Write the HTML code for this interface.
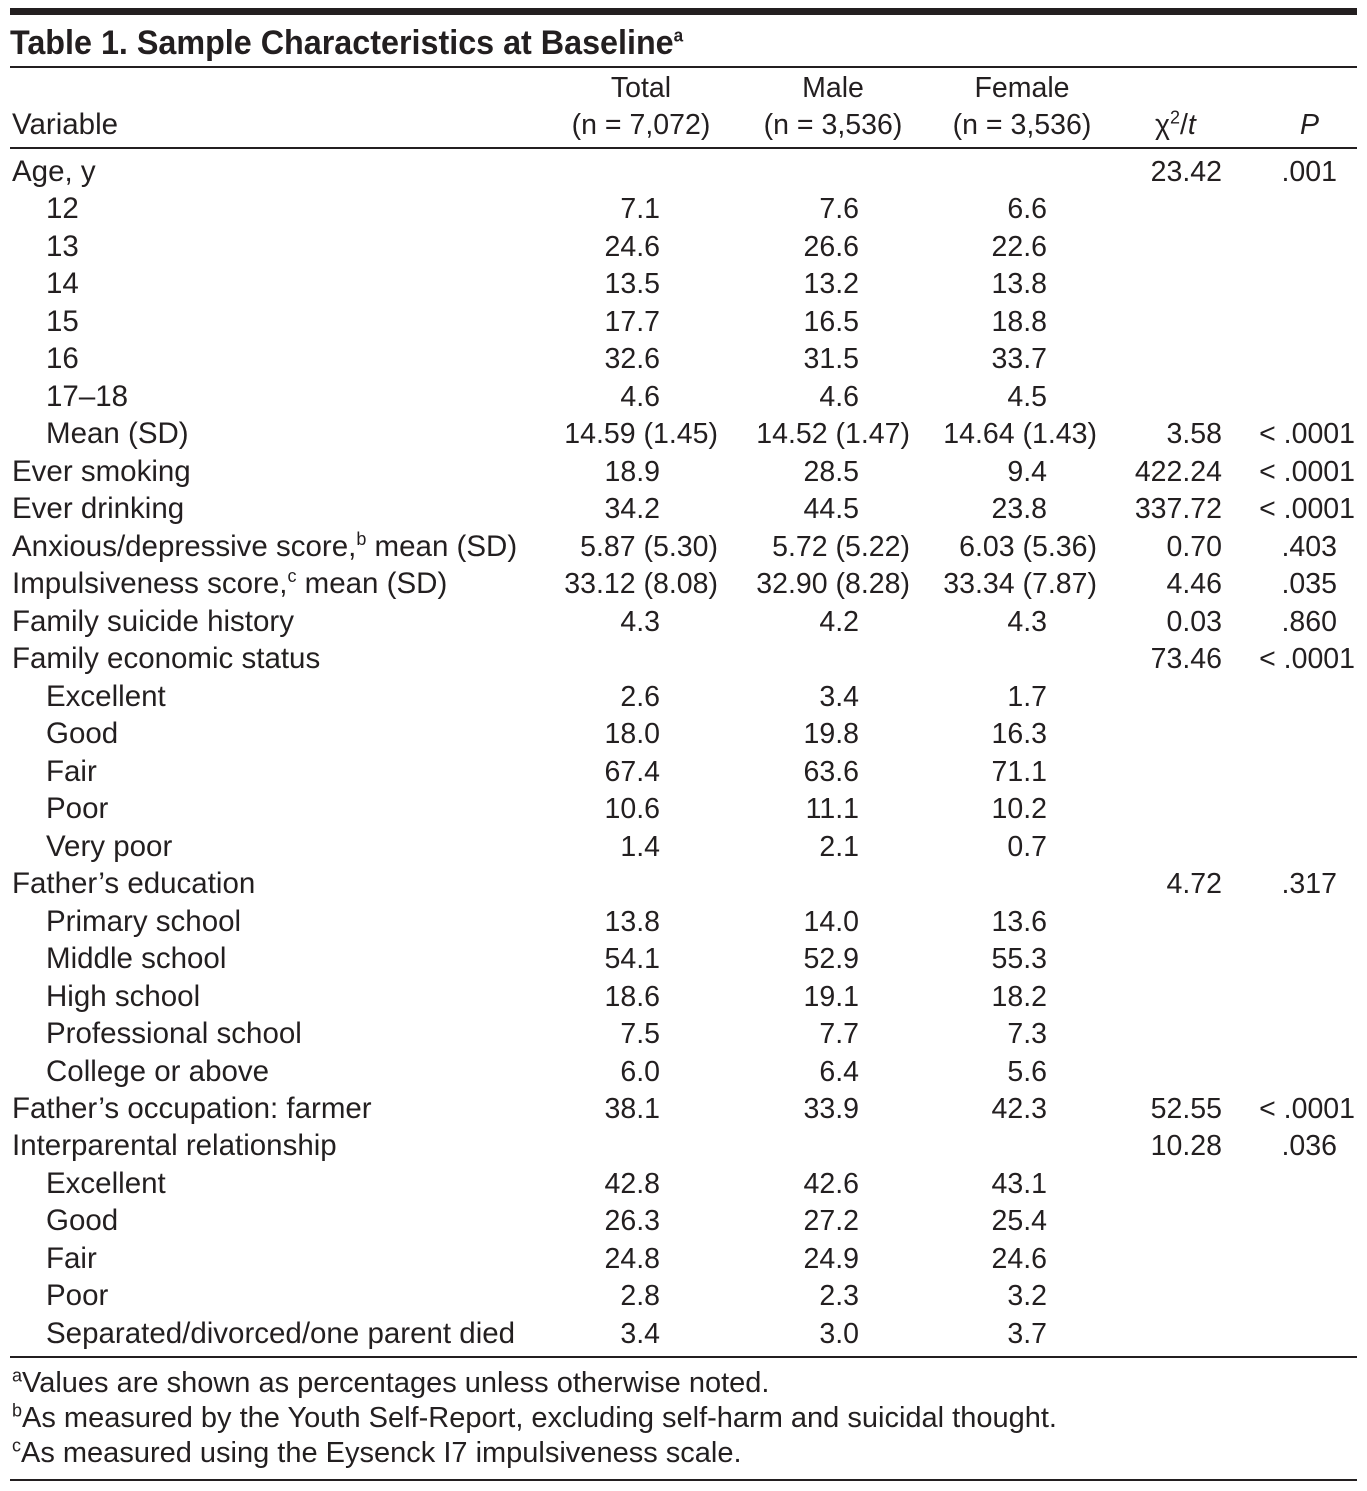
<!DOCTYPE html>
<html><head><meta charset="utf-8">
<style>
html,body{margin:0;padding:0;background:#fff;}
body{width:1367px;height:1491px;position:relative;overflow:hidden;font-family:"Liberation Sans",sans-serif;color:#231f20;}
.t{position:absolute;font-size:28.5px;line-height:34px;white-space:nowrap;}
.lab{font-size:29.5px;}
.r{text-align:right;}
.c{text-align:center;}
.ln{position:absolute;left:10px;width:1347px;background:#231f20;}
sup{font-size:18px;line-height:0;}
</style></head>
<body>
<div class="ln" style="top:8px;height:7px"></div>
<div class="t" style="left:10px;top:26px;font-size:34px;font-weight:bold;transform:scaleX(0.95);transform-origin:left">Table 1. Sample Characteristics at Baseline<sup>a</sup></div>
<div class="ln" style="top:66px;height:2px"></div>
<div class="t lab" style="left:12px;top:108px">Variable</div>
<div class="t c" style="left:541px;width:200px;top:71px">Total</div>
<div class="t c" style="left:541px;width:200px;top:108px">(n = 7,072)</div>
<div class="t c" style="left:733px;width:200px;top:71px">Male</div>
<div class="t c" style="left:733px;width:200px;top:108px">(n = 3,536)</div>
<div class="t c" style="left:922px;width:200px;top:71px">Female</div>
<div class="t c" style="left:922px;width:200px;top:108px">(n = 3,536)</div>
<div class="t" style="left:1155px;top:108px">χ<sup>2</sup>/<i>t</i></div>
<div class="t" style="left:1300px;top:108px;font-style:italic">P</div>
<div class="ln" style="top:147px;height:2px"></div>
<div id="rows"></div>
<div class="ln" style="top:1356px;height:2px"></div>
<div class="t" style="left:12px;top:1366px;font-size:29px"><sup>a</sup>Values are shown as percentages unless otherwise noted.</div>
<div class="t" style="left:12px;top:1401px;font-size:29px"><sup>b</sup>As measured by the Youth Self-Report, excluding self-harm and suicidal thought.</div>
<div class="t" style="left:12px;top:1436px;font-size:29px"><sup>c</sup>As measured using the Eysenck I7 impulsiveness scale.</div>
<div class="ln" style="top:1479px;height:2px"></div>
<script>
const labels=["Age, y","12","13","14","15","16","17–18","Mean (SD)","Ever smoking","Ever drinking","Anxious/depressive score,<sup>b</sup> mean (SD)","Impulsiveness score,<sup>c</sup> mean (SD)","Family suicide history","Family economic status","Excellent","Good","Fair","Poor","Very poor","Father’s education","Primary school","Middle school","High school","Professional school","College or above","Father’s occupation: farmer","Interparental relationship","Excellent","Good","Fair","Poor","Separated/divorced/one parent died"];
const indent=[0,1,1,1,1,1,1,1,0,0,0,0,0,0,1,1,1,1,1,0,1,1,1,1,1,0,0,1,1,1,1,1];
const total=["","7.1","24.6","13.5","17.7","32.6","4.6","14.59 (1.45)","18.9","34.2","5.87 (5.30)","33.12 (8.08)","4.3","","2.6","18.0","67.4","10.6","1.4","","13.8","54.1","18.6","7.5","6.0","38.1","","42.8","26.3","24.8","2.8","3.4"];
const male=["","7.6","26.6","13.2","16.5","31.5","4.6","14.52 (1.47)","28.5","44.5","5.72 (5.22)","32.90 (8.28)","4.2","","3.4","19.8","63.6","11.1","2.1","","14.0","52.9","19.1","7.7","6.4","33.9","","42.6","27.2","24.9","2.3","3.0"];
const female=["","6.6","22.6","13.8","18.8","33.7","4.5","14.64 (1.43)","9.4","23.8","6.03 (5.36)","33.34 (7.87)","4.3","","1.7","16.3","71.1","10.2","0.7","","13.6","55.3","18.2","7.3","5.6","42.3","","43.1","25.4","24.6","3.2","3.7"];
const stat=["23.42","","","","","","","3.58","422.24","337.72","0.70","4.46","0.03","73.46","","","","","","4.72","","","","","","52.55","10.28","","","","",""];
const pval=[".001","","","","","","","< .0001","< .0001","< .0001",".403",".035",".860","< .0001","","","","","",".317","","","","","","< .0001",".036","","","","",""];
const host=document.getElementById('rows');
function cell(txt,left,width,top,cls){
  const d=document.createElement('div');
  d.className='t '+cls;
  d.style.left=left+'px';d.style.top=top+'px';
  if(width)d.style.width=width+'px';
  d.innerHTML=txt;
  host.appendChild(d);
  return d;
}
for(let i=0;i<labels.length;i++){
  const top=172+i*37.48-17;
  const a=cell(labels[i],indent[i]?46:12,0,top,'lab');
  
  
  const paren=total[i].indexOf('(')>=0;
  if(total[i]){
    const b=cell(total[i],400,paren?318:260,top,'r');
    
    
  }
  if(male[i]){
    const b=cell(male[i],600,paren?310:259,top,'r');
    
    
  }
  if(female[i]){
    const b=cell(female[i],800,paren?297:247,top,'r');
    
    
  }
  if(stat[i]){
    const b=cell(stat[i],1100,122,top,'r');
    
    
  }
  if(pval[i]){
    const lt=pval[i].charAt(0)==='<';
    const b=cell(pval[i],1200,lt?155:137,top,'r');
    
    
  }
}
</script>
</body></html>
